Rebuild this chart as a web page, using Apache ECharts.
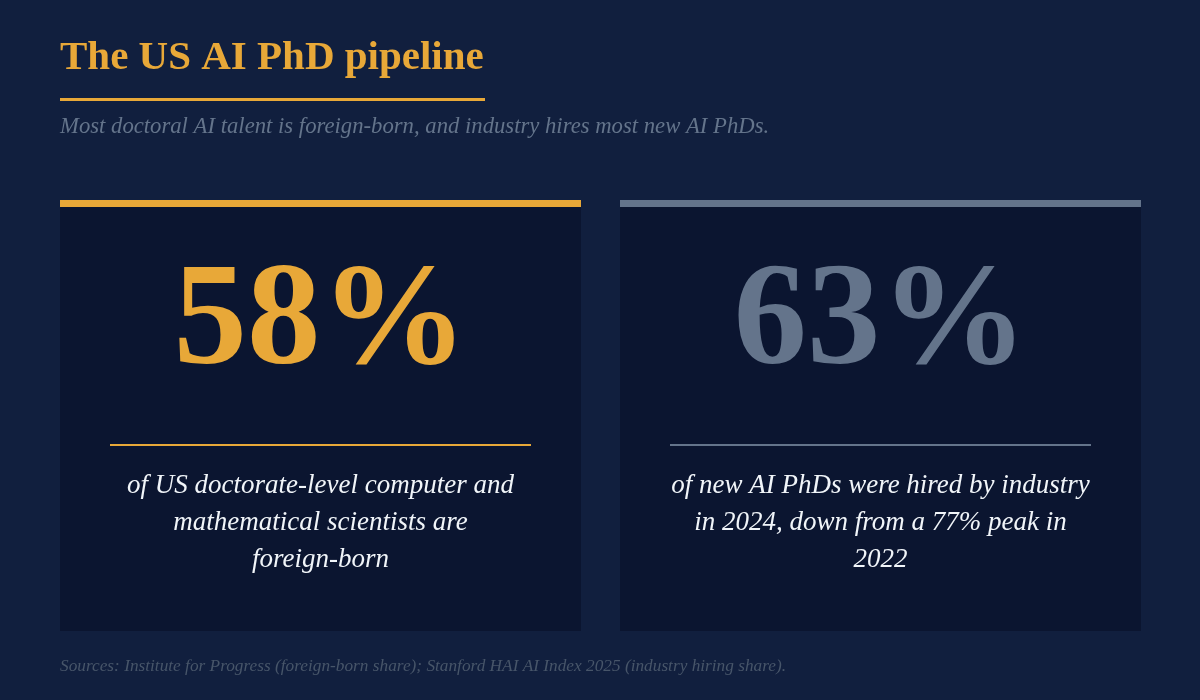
<!DOCTYPE html>
<html>
<head>
<meta charset="utf-8">
<script src="https://cdn.jsdelivr.net/npm/echarts@6/dist/echarts.min.js"></script>
<style>
html,body{margin:0;padding:0;background:#111f3e;}
#chart{width:1200px;height:700px;}
</style>
</head>
<body>
<div id="chart"></div>
<script>
const titleText = 'The US AI PhD pipeline';
const subtitleText = 'Most doctoral AI talent is foreign-born, and industry hires most new AI PhDs.';
const sourceText = 'Sources: Institute for Progress (foreign-born share); Stanford HAI AI Index 2025 (industry hiring share).';
const statValues = [58, 63];
const statDescriptions = [
  'of US doctorate-level computer and\nmathematical scientists are\nforeign-born',
  'of new AI PhDs were hired by industry\nin 2024, down from a 77% peak in\n2022'
];
const statColors = ['#e8a838', '#64748b'];

const serif = '"Liberation Serif", "DejaVu Serif", serif';
const chart = echarts.init(document.getElementById('chart'));

const W = 1200, cardTop = 200, cardBottom = 631, cardW = 521, gap = 39, left = 60;
const elements = [
  { type: 'rect', shape: { x: 0, y: 0, width: W, height: 700 }, style: { fill: '#111f3e' }, silent: true },
  { type: 'text', style: { text: titleText, x: 60, y: 79, fill: '#e8a838', font: 'bold 41px ' + serif, textVerticalAlign: 'bottom' } },
  { type: 'rect', shape: { x: 60, y: 98, width: 425, height: 3 }, style: { fill: '#e8a838' } },
  { type: 'text', style: { text: subtitleText, x: 60, y: 127, fill: '#64748b', font: 'italic 22.7px ' + serif, textVerticalAlign: 'middle' } },
  { type: 'text', style: { text: sourceText, x: 60, y: 666, fill: '#475569', font: 'italic 17.3px ' + serif, textVerticalAlign: 'middle' } }
];
statValues.forEach((v, i) => {
  const x0 = left + i * (cardW + gap);
  const cx = x0 + cardW / 2;
  elements.push(
    { type: 'rect', shape: { x: x0, y: cardTop, width: cardW, height: cardBottom - cardTop }, style: { fill: '#0b1530' } },
    { type: 'rect', shape: { x: x0, y: cardTop, width: cardW, height: 7 }, style: { fill: statColors[i] } },
    { type: 'text', style: { text: v + '%', x: cx, y: 325, fill: statColors[i], font: 'bold 147px ' + serif, textAlign: 'center', textVerticalAlign: 'middle' } },
    { type: 'rect', shape: { x: x0 + 50, y: 444, width: cardW - 100, height: 2 }, style: { fill: statColors[i] } },
    { type: 'text', style: { text: statDescriptions[i], x: cx, y: 523, fill: '#f1f5f9', font: 'italic 27px ' + serif, lineHeight: 37, textAlign: 'center', textVerticalAlign: 'middle' } }
  );
});

chart.setOption({
  backgroundColor: '#111f3e',
  animation: false,
  graphic: { elements: elements }
});
</script>
</body>
</html>
